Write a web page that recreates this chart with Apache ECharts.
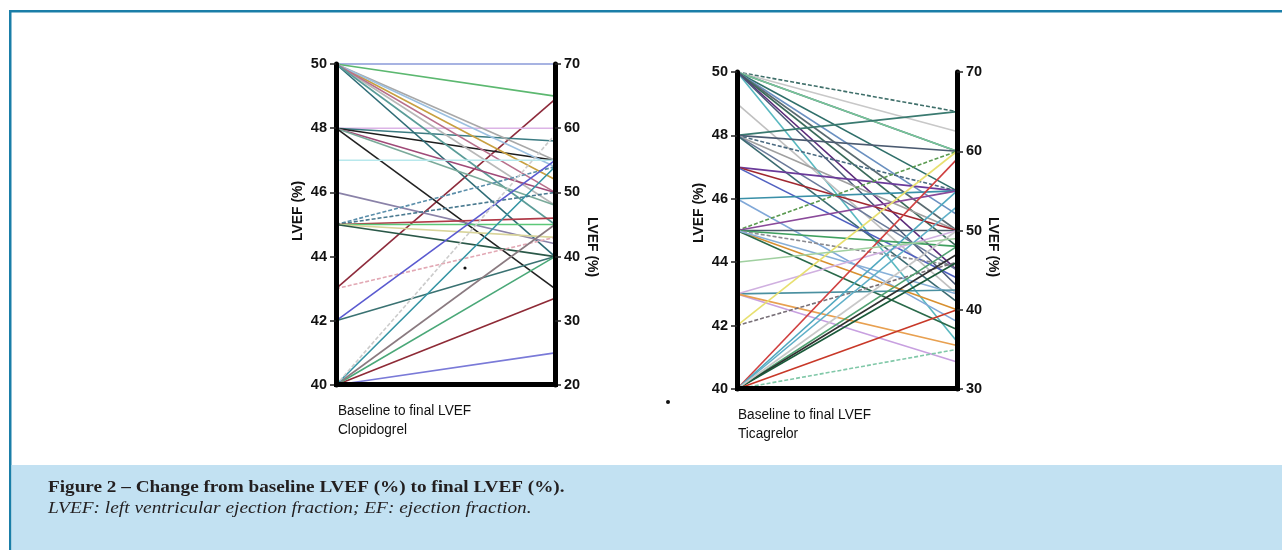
<!DOCTYPE html>
<html><head><meta charset="utf-8">
<script src="https://cdn.jsdelivr.net/npm/echarts@6/dist/echarts.min.js"></script>
<style>html,body{margin:0;padding:0;background:#fff}#c{width:1282px;height:550px}</style>
</head><body><div id="c"></div>
<script>
// ---------- DATA ----------
const clopiBaselineTicks = [40, 42, 44, 46, 48, 50];
const clopiFinalTicks = [20, 30, 40, 50, 60, 70];
const ticaBaselineTicks = [40, 42, 44, 46, 48, 50];
const ticaFinalTicks = [30, 40, 50, 60, 70];

const clopiBaseline = [50,50,43,48,48,48,50,50,50,50,50,50,50,48,48,48,47,46,45,45,45,45,45,45,43,42,42,40,40,40,40,40,40];
const clopiFinal    = [70,65,64.5,60,58,55,55,52,54,48,50,40,45,50,48,35,55,42,54,50,46,45,43,40,43,55,40,25,33.5,40,45,54,59];
const clopiColors = ['#8a9ad8','#5cb870','#8e2b3c','#dcb4e6','#3b7b82','#1e1e1e','#a8a8a8','#c8a040','#9cc0e0','#b8b8b8','#b8708c','#2e6c76','#5a9c98','#a04a78','#7aaa9a','#222222','#b8e8ec','#8a82a8','#5a8eaa','#4a7a90','#b03a48','#5cc878','#d8d49a','#2a5848','#e2a8b4','#5a5ad0','#3a7272','#7a7ad8','#8e2a36','#4aa878','#8a7a80','#3494a4','#cccccc'];
const clopiDashed = [0,0,0,0,0,0,0,0,0,0,0,0,0,0,0,0,0,0,1,1,0,0,0,0,1,0,0,0,0,0,0,0,1];

const ticaBaseline = [50,50,50,50,50,50,50,50,50,50,50,49,48,48,48,48,48,48,47,47,47,46,46,45,45,45,45,45,45,45,45,43,43,43,43,42,42,40,40,40,40,40,40,40,40,40,44];
const ticaFinal    = [65,62.5,60,60,55,52,50,48,45,36,43,42,65,60,55,50,45,41,55,50,44,55,38.5,60,55,50,48,45.5,40,37.5,42,42.5,50,33.4,35.5,60,46,59,55,53,48,47,46,50,40,35,49];
const ticaColors = ['#3f6f6a','#c8c8c8','#4a5a7a','#78c898','#2f6f6a','#6a90c0','#5a6a70','#3a6a5a','#5a2a7a','#58b8c0','#4a5a78','#c0c0c0','#3a7a70','#4a5a70','#4a6a80','#a0a0a0','#6a7a9a','#3a6a70','#6a3a9a','#a02830','#5060c0','#3a90a8','#80a8d8','#5a9a50','#8a4a9a','#4a5a68','#40a060','#8a8a90','#d89030','#2a6a4a','#88b0d8','#4a90a0','#d0b0e0','#c8a0e0','#e8a050','#e8e070','#787078','#d04040','#50a8c0','#60b0c8','#50a070','#303030','#1a5a3a','#c8c8c8','#c83828','#80c8a8','#a0d0a0'];
const ticaDashed = [1,0,0,0,0,0,0,0,0,0,0,0,0,0,1,0,0,0,0,0,0,0,0,1,0,0,0,1,0,0,0,0,0,0,0,0,1,0,0,0,0,0,0,0,0,1,0];

// ---------- CHART ----------
const axisFont = "'Liberation Sans',Arial,sans-serif";
const serif = "'Liberation Serif','DejaVu Serif',serif";
function items(b, f, cols, dash) {
  return b.map((v, i) => ({
    value: [v, f[i]],
    lineStyle: { color: cols[i], width: 1.6, opacity: 1, type: dash[i] ? [4, 2] : 'solid' }
  }));
}
function pAxis(dim, pIdx, ticks, side) {
  const left = side === 'left';
  return {
    dim: dim, parallelIndex: pIdx, type: 'value',
    min: ticks[0], max: ticks[ticks.length - 1], interval: ticks[1] - ticks[0],
    name: '',
    axisLine: { show: true, lineStyle: { color: '#000', width: 5, cap: 'round' } },
    axisTick: { show: true, length: left ? -6 : 6, lineStyle: { color: '#222', width: 1.5 } },
    axisLabel: { show: true, margin: left ? -9 : 9, align: left ? 'right' : 'left',
      color: '#111', fontWeight: 'bold', fontSize: 14.5, fontFamily: axisFont },
    splitLine: { show: false }
  };
}
const chart = echarts.init(document.getElementById('c'), null, { renderer: 'canvas' });
const txt = (x, y, text, style, rot, sx) => ({
  type: 'text', x: x, y: y, rotation: rot || 0, scaleX: sx || 1, silent: true, z: 100,
  style: Object.assign({ text: text, fill: '#111' }, style)
});
const nameFont = "bold 15px " + axisFont;
const baseFont = "15.5px " + axisFont;
chart.setOption({
  backgroundColor: '#fff',
  animation: false,
  parallel: [
    { left: 336, top: 64, width: 219, height: 321, layout: 'horizontal' },
    { left: 737, top: 72, width: 220, height: 317, layout: 'horizontal' }
  ],
  parallelAxis: [
    pAxis(0, 0, clopiBaselineTicks, 'left'),
    pAxis(1, 0, clopiFinalTicks, 'right'),
    pAxis(0, 1, ticaBaselineTicks, 'left'),
    pAxis(1, 1, ticaFinalTicks, 'right')
  ],
  series: [
    { type: 'parallel', parallelIndex: 0, smooth: false, inactiveOpacity: 1, activeOpacity: 1,
      lineStyle: { width: 1.6, opacity: 1 }, data: items(clopiBaseline, clopiFinal, clopiColors, clopiDashed) },
    { type: 'parallel', parallelIndex: 1, smooth: false, inactiveOpacity: 1, activeOpacity: 1,
      lineStyle: { width: 1.6, opacity: 1 }, data: items(ticaBaseline, ticaFinal, ticaColors, ticaDashed) }
  ],
  graphic: [
    // frame
    { type: 'rect', silent: true, shape: { x: 9, y: 10, width: 1273, height: 2.5 }, style: { fill: '#1a7ea8' } },
    { type: 'rect', silent: true, shape: { x: 9, y: 10, width: 2.5, height: 540 }, style: { fill: '#1a7ea8' } },
    { type: 'rect', silent: true, shape: { x: 11.5, y: 465, width: 1271, height: 85 }, style: { fill: '#c2e1f2' } },
    // bottom bars of panels
    { type: 'rect', silent: true, z: 50, shape: { x: 334, y: 382, width: 224, height: 5 }, style: { fill: '#000' } },
    { type: 'rect', silent: true, z: 50, shape: { x: 735, y: 386, width: 225, height: 5 }, style: { fill: '#000' } },
    // axis names
    txt(298, 211, 'LVEF (%)', { font: nameFont, align: 'center', verticalAlign: 'middle' }, Math.PI / 2, 0.93),
    txt(592, 247, 'LVEF (%)', { font: nameFont, align: 'center', verticalAlign: 'middle' }, -Math.PI / 2, 0.93),
    txt(699, 213, 'LVEF (%)', { font: nameFont, align: 'center', verticalAlign: 'middle' }, Math.PI / 2, 0.93),
    txt(993, 247, 'LVEF (%)', { font: nameFont, align: 'center', verticalAlign: 'middle' }, -Math.PI / 2, 0.93),
    // bottom labels
    txt(338, 411, 'Baseline to final LVEF', { font: baseFont, verticalAlign: 'middle' }, 0, 0.88),
    txt(338, 430, 'Clopidogrel', { font: baseFont, verticalAlign: 'middle' }, 0, 0.88),
    txt(738, 415, 'Baseline to final LVEF', { font: baseFont, verticalAlign: 'middle' }, 0, 0.88),
    txt(738, 434, 'Ticagrelor', { font: baseFont, verticalAlign: 'middle' }, 0, 0.88),
    // stray dots
    { type: 'circle', silent: true, shape: { cx: 465, cy: 268, r: 1.6 }, style: { fill: '#111' } },
    { type: 'circle', silent: true, shape: { cx: 668, cy: 402, r: 2 }, style: { fill: '#111' } },
    // caption
    txt(48, 488, 'Figure 2 – Change from baseline LVEF (%) to final LVEF (%).', { font: "bold 17px " + serif, fill: '#231f20', verticalAlign: 'middle' }, 0, 1.13),
    txt(48, 509, 'LVEF: left ventricular ejection fraction; EF: ejection fraction.', { font: "italic 17px " + serif, fill: '#231f20', verticalAlign: 'middle' }, 0, 1.14)
  ]
});
</script></body></html>
